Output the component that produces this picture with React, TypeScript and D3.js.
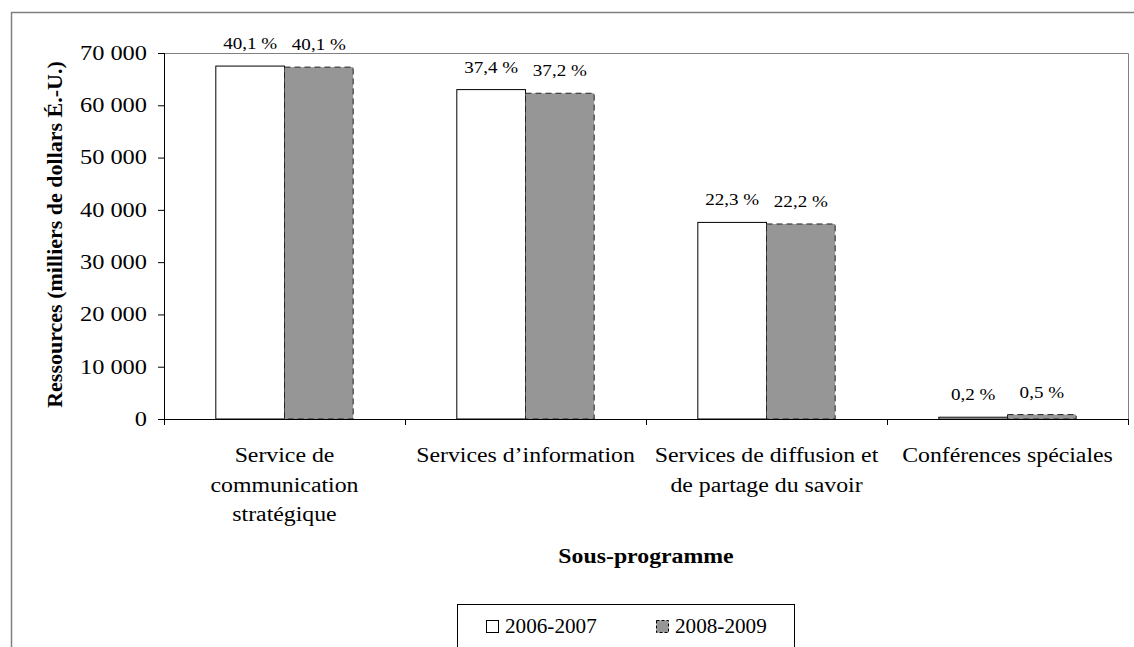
import React, { useEffect, useRef } from 'react';
import * as d3 from 'd3';

const categories = [
  ['Service de', 'communication', 'stratégique'],
  ['Services d’information'],
  ['Services de diffusion et', 'de partage du savoir'],
  ['Conférences spéciales'],
];
const seriesNames = ['2006-2007', '2008-2009'];
const values2006 = [67500, 63000, 37600, 340];
const values2008 = [67300, 62300, 37300, 840];
const labels2006 = ['40,1 %', '37,4 %', '22,3 %', '0,2 %'];
const labels2008 = ['40,1 %', '37,2 %', '22,2 %', '0,5 %'];
const yTicks = [0, 10000, 20000, 30000, 40000, 50000, 60000, 70000];

const FONT = "'Liberation Serif', 'Times New Roman', 'DejaVu Serif', serif";

// text that is a bit wider than the font, like the stretched original
const addText = (parent, x, y, str, opts) => {
  const { size = 19, sx = 1, anchor = 'middle', weight = 'normal' } = opts || {};
  return parent.append('text')
    .attr('transform', `translate(${x},${y}) scale(${sx},1)`)
    .attr('text-anchor', anchor)
    .attr('font-family', FONT)
    .attr('font-size', size)
    .attr('font-weight', weight)
    .attr('fill', '#000')
    .text(str);
};

const App = () => {
  const svgRef = useRef<SVGSVGElement>(null);

  useEffect(() => {
    if (!svgRef.current) return;
    const root = d3.select(svgRef.current);
    root.selectAll('*').remove();

    const width = 1134;
    const height = 647;
    const plot = { left: 164, right: 1128, top: 53, bottom: 419 };

    // outer chart border
    root.append('rect')
      .attr('x', 11.5).attr('y', 12.5)
      .attr('width', width).attr('height', height)
      .attr('fill', 'white')
      .attr('stroke', '#7f7f7f')
      .attr('stroke-width', 1.5);

    const x = d3.scaleBand<number>()
      .domain(d3.range(categories.length))
      .range([plot.left, plot.right])
      .paddingInner(0.43)
      .paddingOuter(0.215);

    const xSub = d3.scaleBand<number>()
      .domain([0, 1])
      .range([0, x.bandwidth()]);

    const y = d3.scaleLinear()
      .domain([0, 70000])
      .range([plot.bottom, plot.top]);

    const fmt = (v: number) => d3.format(',')(v).replace(/,/g, ' ');

    // plot area border (top and right)
    root.append('path')
      .attr('d', `M${plot.left},${plot.top + 0.5}H${plot.right + 0.5}V${plot.bottom}`)
      .attr('fill', 'none')
      .attr('stroke', '#808080')
      .attr('stroke-width', 1);

    // bars
    const series = [
      { values: values2006, labels: labels2006, fill: '#ffffff', dash: null },
      { values: values2008, labels: labels2008, fill: '#969696', dash: '6,4' },
    ];

    series.forEach((s, si) => {
      const g = root.append('g');
      g.selectAll('rect')
        .data(s.values)
        .enter()
        .append('rect')
        .attr('x', (d, i) => (x(i) as number) + (xSub(si) as number))
        .attr('y', d => y(d))
        .attr('width', xSub.bandwidth())
        .attr('height', d => plot.bottom - y(d))
        .attr('fill', s.fill)
        .attr('stroke', si === 0 ? '#000' : '#222')
        .attr('stroke-width', 1)
        .attr('stroke-dasharray', s.dash);

      s.values.forEach((v, i) => {
        const cx = (x(i) as number) + (xSub(si) as number) + xSub.bandwidth() / 2;
        addText(g, cx, y(v) - 17, s.labels[i], { size: 17.5, sx: 1.09 });
      });
    });

    // y axis
    const tickSx = 1.22;
    const yAxis = root.append('g')
      .attr('transform', `translate(${plot.left},0)`)
      .call(d3.axisLeft(y)
        .tickValues(yTicks)
        .tickSize(6)
        .tickPadding(11)
        .tickFormat(d => fmt(d as number)));
    yAxis.attr('font-family', FONT).attr('font-size', 20);
    yAxis.select('.domain').attr('stroke', '#000').attr('d', `M0.5,${plot.top}V${plot.bottom}`);
    yAxis.selectAll('.tick line').attr('stroke', '#000');
    yAxis.selectAll('.tick text')
      .attr('fill', '#000')
      .attr('x', -17 / tickSx)
      .attr('transform', `scale(${tickSx},1)`);

    // x axis line and ticks at category boundaries
    const xAxis = root.append('g');
    xAxis.append('line')
      .attr('x1', plot.left).attr('x2', plot.right)
      .attr('y1', plot.bottom + 0.5).attr('y2', plot.bottom + 0.5)
      .attr('stroke', '#000');
    const bounds = d3.range(categories.length + 1).map(i => plot.left + i * x.step());
    xAxis.selectAll('.xtick')
      .data(bounds)
      .enter()
      .append('line')
      .attr('x1', d => Math.round(d) + 0.5).attr('x2', d => Math.round(d) + 0.5)
      .attr('y1', plot.bottom).attr('y2', plot.bottom + 6)
      .attr('stroke', '#000');

    // category labels
    categories.forEach((lines, i) => {
      const cx = (x(i) as number) + x.bandwidth() / 2;
      lines.forEach((line, li) => {
        addText(root, cx, 462 + li * 29.5, line, { size: 20, sx: 1.19 });
      });
    });

    // axis titles
    addText(root, (plot.left + plot.right) / 2, 563, 'Sous-programme', { size: 20, sx: 1.19, weight: 'bold' });

    root.append('text')
      .attr('transform', `translate(62,234.5) rotate(-90)`)
      .attr('text-anchor', 'middle')
      .attr('font-family', FONT)
      .attr('font-size', 22)
      .attr('font-weight', 'bold')
      .text('Ressources (milliers de dollars É.-U.)');

    // legend
    const legend = root.append('g');
    legend.append('rect')
      .attr('x', 457.5).attr('y', 604.5)
      .attr('width', 337).attr('height', 60)
      .attr('fill', 'white')
      .attr('stroke', '#000')
      .attr('stroke-width', 1);

    const legendX = [486, 656];
    seriesNames.forEach((name, i) => {
      legend.append('rect')
        .attr('x', legendX[i] + 0.5).attr('y', 620.5)
        .attr('width', 12).attr('height', 12)
        .attr('fill', series[i].fill)
        .attr('stroke', '#000')
        .attr('stroke-width', 1)
        .attr('stroke-dasharray', i === 1 ? '3,2' : null);
      addText(legend, legendX[i] + 19, 633, name, { size: 20, sx: 1.06, anchor: 'start' });
    });
  }, []);

  return (
    <div style={{ position: 'absolute', left: 0, top: 0, width: 1134, height: 647, overflow: 'hidden', background: 'white' }}>
      <svg ref={svgRef} width={1134} height={647}></svg>
    </div>
  );
};

export default App;
